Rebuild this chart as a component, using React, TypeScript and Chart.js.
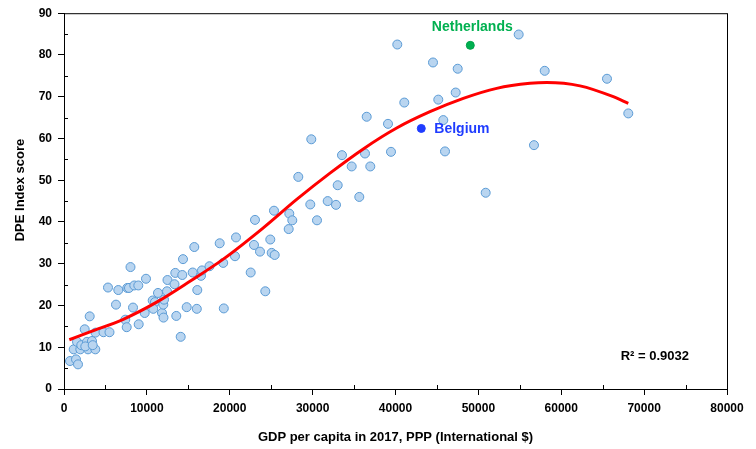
import React, { useEffect, useRef } from "react";
import { Chart, registerables } from "chart.js";

Chart.register(...registerables);

const gdp: number[] = [
  724, 1448, 1689, 1170, 1967, 1569, 2087, 2775, 3378, 2896, 3777, 2570, 3463,
  2498, 3101, 3801, 4766, 5490, 5309, 6274, 6552, 7638, 7843, 8482, 8965, 8024,
  9894, 8326, 7396, 7565, 9013, 9737, 10703, 10980, 11342, 10775, 11825, 12006,
  11981, 12066, 12428, 12488, 13333, 13430, 14274, 14359, 13550, 14081, 14805,
  15529, 16024, 16084, 16530, 16651, 17556, 19281, 19209, 20633, 28271, 29719,
  25339, 27185, 27547, 27112, 23046, 20754, 18787, 24892, 22925, 23649, 25061,
  25423, 15722, 22527, 24289, 41061, 36524, 39094, 29839, 33543, 36319, 39456,
  34714, 36958, 33025, 31818, 32819, 35630, 30527, 40216, 54864, 44524, 47504,
  58002, 65518, 47263, 45163, 45766, 68089, 45972, 56710, 50882,
];
const dpe: number[] = [
  6.7, 7.1, 5.9, 9.5, 9.5, 11.3, 10.5, 11.3, 11.5, 9.5, 9.5, 10.2, 10.5,
  14.3, 17.4, 13.5, 13.6, 13.6, 24.3, 20.2, 23.7, 24.2, 24.2, 24.8, 24.8, 29.2,
  26.4, 19.5, 16.6, 14.8, 15.5, 18.2, 21.2, 20.8, 23.0, 19.2, 18.2, 17.1,
  20.2, 21.4, 23.4, 26.1, 25.1, 27.8, 27.3, 31.1, 17.5, 12.5, 19.6,
  27.9, 19.2, 23.7, 27.1, 28.4, 29.4, 19.3, 30.2, 31.8, 50.8, 44.2,
  42.7, 42.0, 40.4, 38.3, 40.5, 36.3, 34.9, 35.8, 34.5, 32.9, 32.6,
  32.1, 34.0, 27.9, 23.4, 68.6, 65.2, 63.5, 59.8, 56.0, 56.4, 56.8,
  53.3, 53.3, 48.8, 45.0, 44.1, 46.0, 40.4, 82.5, 84.9, 78.2, 76.7,
  76.2, 74.3, 71.0, 69.3, 64.4, 66.0, 56.9, 58.4, 47.0,
];

const belgium = { name: "Belgium", gdp: 43112, dpe: 62.4 };
const netherlands = { name: "Netherlands", gdp: 49024, dpe: 82.3 };

const trendX: number[] = [
  640, 3137, 7155, 11185, 15203, 19221, 24048, 28078, 32096, 36114, 40144,
  44162, 48180, 52209, 56228, 58243, 62261, 66279, 68089,
];
const trendY: number[] = [
  11.8, 13.7, 16.7, 20.8, 25.8, 31.1, 38.6, 45.4, 51.7, 57.5, 62.5, 66.4, 69.6,
  72.0, 73.2, 73.4, 72.6, 70.0, 68.4,
];

const xTicksMax = 80000;
const yTicksMax = 90;
const rSquaredText = "R² = 0.9032";
const xTitle = "GDP per capita in 2017, PPP (International $)";
const yTitle = "DPE Index score";

const FONT = "'Liberation Sans', Arial, sans-serif";

export default function App() {
  const ref = useRef<HTMLCanvasElement | null>(null);

  useEffect(() => {
    const canvas = ref.current;
    if (!canvas) return;

    const extras = {
      id: "extras",
      beforeDatasetsDraw(chart: any) {
        const { ctx, chartArea: a } = chart;
        const xs = chart.scales.x;
        const ys = chart.scales.y;
        ctx.save();
        ctx.strokeStyle = "#000";
        ctx.lineWidth = 1;
        ctx.strokeRect(a.left + 0.5, a.top + 0.5, a.right - a.left, a.bottom - a.top);
        ctx.beginPath();
        for (let v = 5; v < yTicksMax; v += 10) {
          const py = Math.round(ys.getPixelForValue(v)) + 0.5;
          ctx.moveTo(a.left, py);
          ctx.lineTo(a.left + 4, py);
        }
        for (let v = 5000; v < xTicksMax; v += 10000) {
          const px = Math.round(xs.getPixelForValue(v)) + 0.5;
          ctx.moveTo(px, a.bottom);
          ctx.lineTo(px, a.bottom - 4);
        }
        ctx.stroke();
        // y axis title
        ctx.fillStyle = "#000";
        ctx.font = `bold 13px ${FONT}`;
        ctx.textAlign = "center";
        ctx.textBaseline = "middle";
        ctx.translate(20, 190);
        ctx.rotate(-Math.PI / 2);
        ctx.fillText(yTitle, 0, 0);
        ctx.restore();
      },
      afterDatasetsDraw(chart: any) {
        const { ctx, chartArea: a } = chart;
        const xs = chart.scales.x;
        const ys = chart.scales.y;
        ctx.save();
        ctx.font = `bold 14px ${FONT}`;
        ctx.textBaseline = "middle";
        ctx.fillStyle = "#00b050";
        ctx.textAlign = "center";
        ctx.fillText(
          netherlands.name,
          xs.getPixelForValue(netherlands.gdp) + 2,
          ys.getPixelForValue(netherlands.dpe) - 18
        );
        ctx.fillStyle = "#1f3cff";
        ctx.textAlign = "left";
        ctx.fillText(
          belgium.name,
          xs.getPixelForValue(belgium.gdp) + 13,
          ys.getPixelForValue(belgium.dpe) + 1
        );
        ctx.fillStyle = "#000";
        ctx.font = `bold 13px ${FONT}`;
        ctx.textAlign = "right";
        ctx.fillText(rSquaredText, a.right - 38, a.bottom - 33);
        ctx.restore();
      },
    };

    const chart = new Chart(canvas, {
      type: "scatter",
      data: {
        datasets: [
          {
            type: "line",
            label: "trend",
            data: trendX.map((x, i) => ({ x, y: trendY[i] })),
            borderColor: "#ff0000",
            borderWidth: 3,
            pointRadius: 0,
            cubicInterpolationMode: "monotone",
            fill: false,
            order: 1,
          } as any,
          {
            label: "countries",
            data: gdp.map((x, i) => ({ x, y: dpe[i] })),
            backgroundColor: "#b9d5f0",
            borderColor: "#5b9bd5",
            borderWidth: 1,
            pointRadius: 4.5,
            order: 2,
          },
          {
            label: "Netherlands",
            data: [{ x: netherlands.gdp, y: netherlands.dpe }],
            backgroundColor: "#00b050",
            borderColor: "#00a04a",
            borderWidth: 1,
            pointRadius: 4,
            order: 0,
          },
          {
            label: "Belgium",
            data: [{ x: belgium.gdp, y: belgium.dpe }],
            backgroundColor: "#1f3cff",
            borderColor: "#1f3cff",
            borderWidth: 1,
            pointRadius: 4,
            order: 0,
          },
        ],
      },
      options: {
        animation: false,
        responsive: false,
        maintainAspectRatio: false,
        devicePixelRatio: 1,
        layout: { padding: { top: 11, right: 29, left: 0, bottom: 0 } },
        plugins: {
          legend: { display: false },
          tooltip: { enabled: false },
        },
        scales: {
          x: {
            type: "linear",
            min: 0,
            max: xTicksMax,
            ticks: {
              stepSize: 10000,
              color: "#000",
              font: { family: FONT, size: 12, weight: "bold" },
              padding: 6,
              maxRotation: 0,
              callback: (v: any) => String(v),
            },
            grid: {
              drawOnChartArea: false,
              drawTicks: true,
              tickLength: 6,
              tickColor: "#000",
            },
            border: { color: "#000", width: 1 },
            title: {
              display: true,
              text: xTitle,
              color: "#000",
              font: { family: FONT, size: 13, weight: "bold" },
              padding: { top: 0, bottom: 4 },
            },
            afterFit: (s: any) => {
              s.height = 60;
            },
          },
          y: {
            type: "linear",
            min: 0,
            max: yTicksMax,
            ticks: {
              stepSize: 10,
              color: "#000",
              font: { family: FONT, size: 12, weight: "bold" },
              padding: 6,
            },
            grid: {
              drawOnChartArea: false,
              drawTicks: true,
              tickLength: 6,
              tickColor: "#000",
            },
            border: { color: "#000", width: 1 },
            title: { display: false },
            afterFit: (s: any) => {
              s.width = 64;
            },
          },
        },
      } as any,
      plugins: [extras],
    });

    return () => chart.destroy();
  }, []);

  return (
    <div
      style={{
        position: "fixed",
        left: 0,
        top: 0,
        width: 756,
        height: 449,
        background: "#fff",
      }}
    >
      <canvas ref={ref} width={756} height={449} style={{ width: 756, height: 449 }} />
    </div>
  );
}
